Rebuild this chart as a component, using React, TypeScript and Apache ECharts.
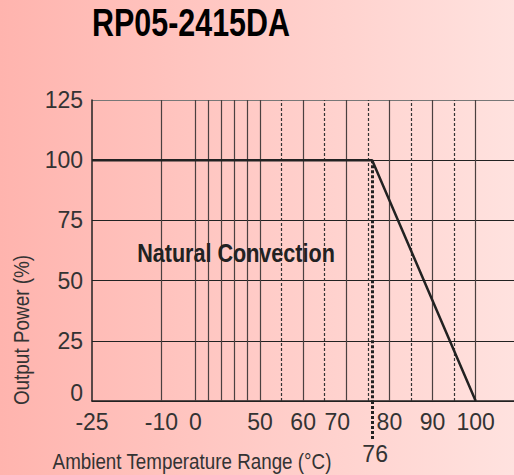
import React, { useEffect, useRef } from "react";
import * as echarts from "echarts";

// ---- data ----
const TITLE = "RP05-2415DA";
const CURVE_TEMP = [-25, 76, 100];
const CURVE_POWER = [100, 100, 0];
const X_LABELS = [-25, -10, 0, 50, 60, 70, 80, 90, 100];
const SOLID_GRID_TEMPS = [-10, 0, 10, 20, 30, 40, 50, 60, 70, 80, 90, 100];
const DASHED_GRID_TEMPS = [55, 65, 75, 85, 95];
const DERATING_START = 76;
const Y_MIN = 0;
const Y_MAX = 125;
const Y_STEP = 25;
const REGION_LABEL = "Natural Convection";
const X_NAME = "Ambient Temperature Range (°C)";
const Y_NAME = "Output Power (%)";

// piecewise (non-linear) temperature scale of the original drawing
const SCALE_TEMPS = [-25, -10, 0, 50, 100, 110];
const SCALE_UNITS = [0, 69.4, 103.4, 168, 383.7, 426.8];
const AXIS_MAX = 422;

function pos(t: number): number {
  for (let i = 0; i < SCALE_TEMPS.length - 1; i++) {
    const a = SCALE_TEMPS[i], b = SCALE_TEMPS[i + 1];
    if (t <= b || i === SCALE_TEMPS.length - 2) {
      const f = (t - a) / (b - a);
      return SCALE_UNITS[i] + f * (SCALE_UNITS[i + 1] - SCALE_UNITS[i]);
    }
  }
  return 0;
}

const FONT = "'Liberation Sans', Arial, sans-serif";

export default function App() {
  const ref = useRef<HTMLDivElement>(null);
  useEffect(() => {
    document.body.style.margin = "0";
    const chart = echarts.init(ref.current!, null, { renderer: "svg" });
    const markData: any[] = [];
    SOLID_GRID_TEMPS.forEach((t) =>
      markData.push({ xAxis: pos(t), lineStyle: { color: "#4a4040", width: 1.2, type: "solid" } })
    );
    DASHED_GRID_TEMPS.forEach((t) =>
      markData.push({ xAxis: pos(t), lineStyle: { color: "#333", width: 1.2, type: [3, 2] } })
    );
    markData.push([
      {
        coord: [pos(DERATING_START), 100],
        lineStyle: { color: "#222", width: 3, type: [3, 2] },
      },
      { coord: [pos(DERATING_START), 0] },
    ]);

    chart.setOption({
      animation: false,
      backgroundColor: new echarts.graphic.LinearGradient(0, 0, 1, 0, [
        { offset: 0, color: "#ffb4ae" },
        { offset: 1, color: "#ffe2df" },
      ]),
      grid: { left: 92, right: 0, top: 100, bottom: 74 },
      xAxis: [
        {
          type: "value",
          min: 0,
          max: AXIS_MAX,
          axisLine: { show: true, lineStyle: { color: "#222", width: 1.5 } },
          axisTick: { show: false },
          splitLine: { show: false },
          axisLabel: {
            customValues: X_LABELS.map(pos),
            showMinLabel: true,
            showMaxLabel: true,
            hideOverlap: false,
            fontFamily: FONT,
            fontSize: 23,
            lineHeight: 18,
            color: "#333",
            margin: 12,
            formatter: (v: number) => {
              let best = X_LABELS[0];
              X_LABELS.forEach((t) => {
                if (Math.abs(pos(t) - v) < Math.abs(pos(best) - v)) best = t;
              });
              return best === 70 ? "{s|70}" : String(best);
            },
            rich: {
              s: { fontFamily: FONT, fontSize: 23, lineHeight: 18, color: "#333", padding: [0, 18, 0, 0] },
            },
          },
        },
        {
          type: "value",
          position: "bottom",
          min: 0,
          max: AXIS_MAX,
          axisLine: { show: false },
          splitLine: { show: false },
          axisTick: {
            show: true,
            customValues: [pos(DERATING_START)],
            length: 39,
            lineStyle: { color: "#222", width: 3, type: [3, 2] },
          },
          axisLabel: {
            customValues: [pos(DERATING_START)],
            showMinLabel: true,
            showMaxLabel: true,
            hideOverlap: false,
            margin: 43,
            formatter: () => "{s|" + DERATING_START + "}",
            rich: {
              s: { fontFamily: FONT, fontSize: 23, lineHeight: 20, color: "#333", padding: [0, 0, 0, 6] },
            },
          },
        },
      ],
      yAxis: {
        type: "value",
        min: Y_MIN,
        max: Y_MAX,
        interval: Y_STEP,
        axisLine: { show: true, lineStyle: { color: "#222", width: 1.5 } },
        axisTick: { show: false },
        axisLabel: {
          fontFamily: FONT,
          fontSize: 23,
          lineHeight: 16,
          color: "#333",
          margin: 9,
          formatter: (v: number) => (v === Y_MIN ? "{z|" + v + "}" : String(v)),
          rich: {
            z: { fontFamily: FONT, fontSize: 23, lineHeight: 16, color: "#333", padding: [0, 0, 16, 0] },
          },
        },
        splitLine: {
          show: true,
          lineStyle: { color: ["#222", "#222", "#222", "#222", "#222", "#777"], width: 1.2 },
        },
      },
      series: [
        {
          type: "line",
          xAxisIndex: 0,
          data: CURVE_TEMP.map((t, i) => [pos(t), CURVE_POWER[i]]),
          symbol: "none",
          lineStyle: { color: "#222", width: 2.5 },
          z: 5,
          markLine: {
            silent: true,
            symbol: ["none", "none"],
            label: { show: false },
            data: markData,
            z: 3,
          },
        },
      ],
      graphic: [
        {
          type: "text",
          x: 191,
          y: 22,
          scaleX: 0.78,
          style: {
            text: TITLE,
            fontFamily: FONT,
            fontSize: 39,
            fontWeight: "bold",
            fill: "#000",
            align: "center",
            verticalAlign: "middle",
          },
        },
        {
          type: "text",
          x: 236,
          y: 253,
          z: 10,
          scaleX: 0.83,
          style: {
            text: REGION_LABEL,
            fontFamily: FONT,
            fontSize: 26,
            fontWeight: "bold",
            fill: "#222",
            align: "center",
            verticalAlign: "middle",
          },
        },
        {
          type: "text",
          x: 192,
          y: 461,
          scaleX: 0.855,
          style: {
            text: X_NAME,
            fontFamily: FONT,
            fontSize: 22,
            fill: "#333",
            align: "center",
            verticalAlign: "middle",
          },
        },
        {
          type: "text",
          x: 21,
          y: 330,
          rotation: Math.PI / 2,
          scaleX: 0.86,
          style: {
            text: Y_NAME,
            fontFamily: FONT,
            fontSize: 22,
            fill: "#333",
            align: "center",
            verticalAlign: "middle",
          },
        },
      ],
    });
    return () => chart.dispose();
  }, []);
  return <div ref={ref} style={{ width: 514, height: 475 }} />;
}
